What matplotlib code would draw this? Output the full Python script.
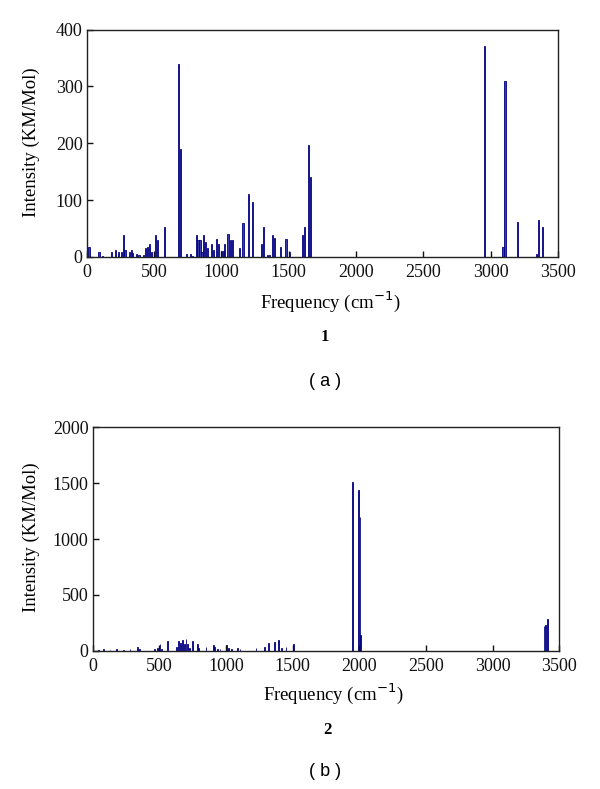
import matplotlib
matplotlib.use("Agg")
import matplotlib.pyplot as plt

# ---- Data: compound 1 ----
freq1 = [17, 91, 116, 185, 215, 237, 257, 272, 284, 319, 331, 343, 371, 388, 420, 437,
         449, 465, 479, 509, 524, 576, 684, 699, 741, 771, 783, 813, 826, 841, 856, 870,
         882, 897, 927, 940, 966, 981, 1000, 1018, 1023, 1050, 1065, 1080, 1132, 1161,
         1201, 1231, 1300, 1312, 1340, 1357, 1381, 1396, 1438, 1480, 1505, 1604, 1618,
         1648, 1660, 2955, 3091, 3106, 3202, 3343, 3356, 3385]
inten1 = [18, 8, 2, 8, 12, 9, 9, 39, 12, 9, 12, 7, 5, 3, 3, 15,
          17, 22, 9, 39, 30, 52, 339, 190, 5, 5, 2, 39, 30, 30, 9, 39,
          26, 16, 22, 12, 32, 22, 10, 10, 22, 41, 30, 30, 16, 59,
          111, 97, 22, 52, 3, 3, 39, 33, 18, 32, 9, 39, 52,
          197, 141, 371, 18, 309, 62, 5, 65, 52]

# ---- Data: compound 2 ----
freq2 = [42, 80, 130, 180, 230, 280, 335, 350, 467, 485, 505, 515, 560, 630, 647, 660,
         675, 687, 700, 712, 727, 747, 785, 797, 850, 905, 917, 935, 955, 1005, 1022,
         1042, 1087, 1105, 1225, 1287, 1322, 1362, 1397, 1417, 1450, 1505,
         1950, 1995, 2005, 2012, 3385, 3398, 3410]
inten2 = [10, 12, 10, 12, 10, 12, 30, 18, 12, 24, 60, 18, 90, 36, 90, 72,
          95, 60, 101, 60, 24, 86, 60, 24, 30, 50, 36, 18, 18, 54, 24,
          18, 24, 18, 24, 30, 72, 80, 92, 24, 30, 60,
          1510, 1436, 1194, 140, 221, 230, 281]

yticks1 = [0, 100, 200, 300, 400]
yticks2 = [0, 500, 1000, 1500, 2000]
xticks = [0, 500, 1000, 1500, 2000, 2500, 3000, 3500]

serif = ["Liberation Serif", "DejaVu Serif"]
sans = ["Liberation Sans", "DejaVu Sans"]

fig = plt.figure(figsize=(6.0, 7.89), dpi=100)

ax1 = fig.add_axes([0.1445, 0.6743, 0.7855, 0.2883])
ax2 = fig.add_axes([0.1545, 0.1753, 0.7777, 0.2831])

def style(ax, freq, inten, yt, ylim, width, face):
    ax.bar(freq, inten, width=width, color=face, edgecolor="#000080", linewidth=0.6,
           align="center")
    ax.set_xlim(0, 3500)
    ax.set_ylim(0, ylim)
    ax.set_xticks(xticks)
    ax.set_yticks(yt)
    ax.set_xticklabels([str(t) for t in xticks], fontfamily=serif, fontsize=13)
    ax.set_yticklabels([str(t) for t in yt], fontfamily=serif, fontsize=13)
    ax.tick_params(direction="in", length=4, width=1, colors="#111111",
                   top=False, right=False)
    ax.tick_params(axis="x", pad=5)
    ax.tick_params(axis="y", pad=3)
    for s in ax.spines.values():
        s.set_color("#222222")
        s.set_linewidth(1.0)

style(ax1, freq1, inten1, yticks1, 400, 9, "#3b3ba6")
style(ax2, freq2, inten2, yticks2, 2000, 7, "#1c1c90")

# y labels
fig.text(0.052, 1 - 142 / 789, "Intensity (KM/Mol)", rotation=90,
         ha="center", va="center", fontfamily=serif, fontsize=13.5)
fig.text(0.052, 1 - 537 / 789, "Intensity (KM/Mol)", rotation=90,
         ha="center", va="center", fontfamily=serif, fontsize=13.5)

# x labels
fig.text(0.55, 1 - 302 / 789, r"Frequency (cm$^{-1}$)", ha="center", va="center",
         fontfamily=serif, fontsize=13.5)
fig.text(0.555, 1 - 694 / 789, r"Frequency (cm$^{-1}$)", ha="center", va="center",
         fontfamily=serif, fontsize=13.5)

# compound numbers
fig.text(0.541, 1 - 337 / 789, "1", ha="center", va="center",
         fontfamily=serif, fontsize=12, fontweight="bold")
fig.text(0.545, 1 - 730 / 789, "2", ha="center", va="center",
         fontfamily=serif, fontsize=12, fontweight="bold")

# panel captions
fig.text(0.541, 1 - 381 / 789, "( a )", ha="center", va="center",
         fontfamily=sans, fontsize=13)
fig.text(0.541, 1 - 771 / 789, "( b )", ha="center", va="center",
         fontfamily=sans, fontsize=13)

fig.savefig("out.png", dpi=100)
